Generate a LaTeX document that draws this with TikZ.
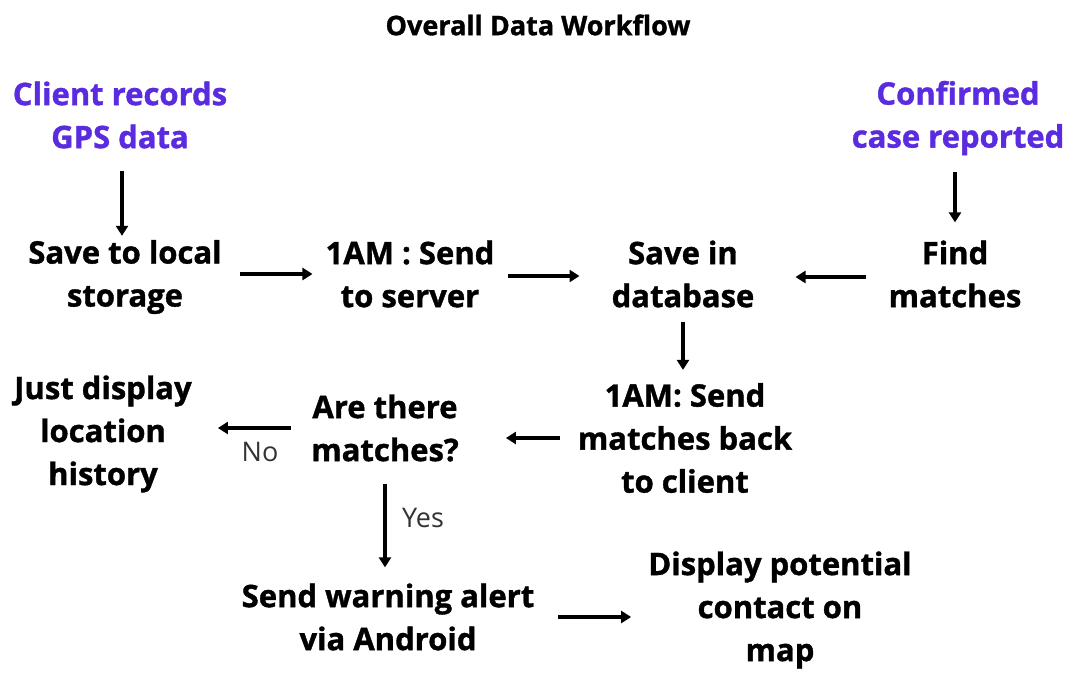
\documentclass[tikz,border=0pt]{standalone}
\usepackage{fontspec}
\setmainfont{Open Sans}[BoldFeatures={FakeBold=1.2}]
\usetikzlibrary{arrows.meta}
\definecolor{accent}{HTML}{5B2BE0}
\begin{document}
\begin{tikzpicture}[x=1pt,y=-1pt,
 lbl/.style={font=\bfseries\fontsize{31}{43}\selectfont, align=center, inner sep=0pt},
 hl/.style={lbl, text=accent},
 ttl/.style={font=\bfseries\fontsize{27}{32}\selectfont, inner sep=0pt},
 ans/.style={font=\fontsize{27}{32}\selectfont, text=black!80, inner sep=0pt},
 flow/.style={line width=3.2pt, -{Triangle[length=10pt,width=12pt]}},
]
\useasboundingbox[fill=white] (0,0) rectangle (1071,673);
\node[ttl] (title) at (538,25) {Overall Data Workflow};
\node[hl] (client) at (120,115) {Client records\\GPS data};
\node[hl] (case) at (958,118) {Confirmed\\case reported};
\node[lbl] (local) at (125,277) {Save to local\\storage};
\node[lbl] (upload) at (410,274) {1AM : Send\\to server};
\node[lbl] (db) at (683,274) {Save in\\database};
\node[lbl] (find) at (955,274) {Find\\matches};
\node[lbl] (just) at (103,434) {Just display\\location\\history};
\node[lbl] (q) at (385,428) {Are there\\matches?};
\node[lbl] (back) at (685,438) {1AM: Send\\matches back\\to client};
\node[lbl] (warn) at (388,617) {Send warning alert\\via Android};
\node[lbl] (disp) at (780,610) {Display potential\\contact on\\map};

\draw[flow, shorten <=22pt, shorten >=4pt] ([xshift=2pt]client.south) -- ([xshift=2pt]client.south |- local.north);
\draw[flow, shorten <=18pt, shorten >=13pt] ([yshift=3pt]local.east) -- ([yshift=3pt]local.east -| upload.west);
\draw[flow, shorten <=13pt, shorten >=32pt] ([yshift=-2pt]upload.east) -- ([yshift=-2pt]upload.east -| db.west);
\draw[flow, shorten <=22pt, shorten >=41pt] ([yshift=-3pt]find.west) -- ([yshift=-3pt]find.west -| db.east);
\draw[flow, shorten <=17pt, shorten >=18pt] (case.south -| find.north) -- (find.north);
\draw[flow, shorten <=14pt, shorten >=13pt] (db.south) -- (db.south |- back.north);
\draw[flow, shorten <=18pt, shorten >=47pt] (back.west) -- (back.west -| q.east);
\draw[flow, shorten <=20pt, shorten >=26pt] (q.west) -- (q.west -| just.east);
\draw[flow, shorten <=22pt, shorten >=16pt] (q.south) -- (q.south |- warn.north);
\draw[flow, shorten <=24pt, shorten >=17pt] (warn.east) -- (warn.east -| disp.west);
\node[ans] (no) at (260,452) {No};
\node[ans] (yes) at (423,518) {Yes};
\end{tikzpicture}
\end{document}
